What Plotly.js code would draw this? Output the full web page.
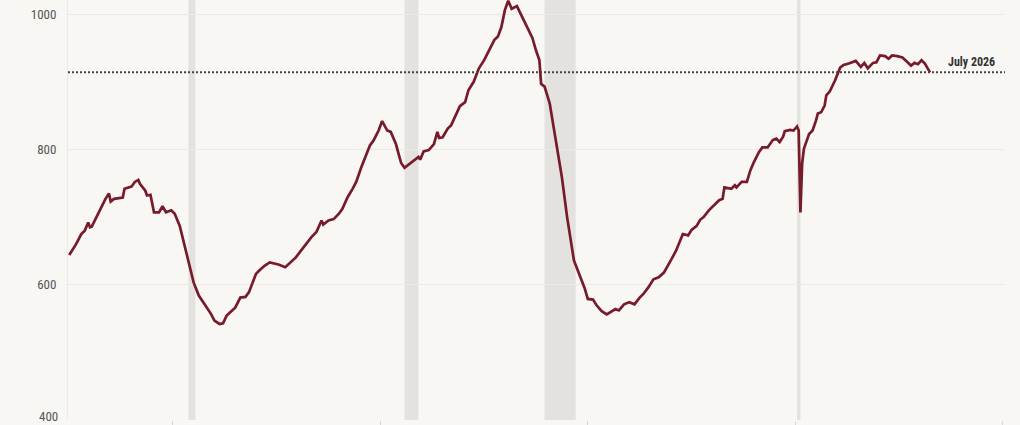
<!DOCTYPE html>
<html>
<head>
<meta charset="utf-8">
<script src="https://cdn.plot.ly/plotly-3.0.1.min.js"></script>
<style>
  html, body { margin: 0; padding: 0; background: #f8f7f4; }
  #chart { width: 1020px; height: 425px; }
</style>
</head>
<body>
<div id="chart"></div>
<script>
const dates = [
  '1985-01','1985-02','1985-05','1985-08','1985-10','1985-12',
  '1986-01','1986-02','1986-05','1986-08','1986-10','1986-12',
  '1987-01','1987-03','1987-06','1987-08','1987-09',
  '1988-01','1988-03','1988-05','1988-06','1988-09','1988-10','1988-12',
  '1989-02','1989-05','1989-07','1989-09','1989-12',
  '1990-02','1990-05','1990-07','1990-10',
  '1991-01','1991-04','1991-08','1991-11',
  '1992-01','1992-04','1992-06','1992-08','1992-10',
  '1993-01','1993-04','1993-07','1993-09','1993-12',
  '1994-01','1994-03','1994-06','1994-09','1994-11',
  '1995-02','1995-06','1995-09','1995-12',
  '1996-03','1996-06','1996-09','1996-12',
  '1997-03','1997-04','1997-07','1997-10',
  '1998-01','1998-03','1998-06','1998-09','1998-11',
  '1999-02','1999-05','1999-07','1999-09','1999-12',
  '2000-02','2000-05','2000-07','2000-10','2000-12',
  '2001-01','2001-03','2001-06','2001-07','2001-11','2001-12',
  '2002-02','2002-05','2002-08','2002-10','2002-11',
  '2003-01','2003-04','2003-06','2003-09','2003-11',
  '2004-02','2004-04','2004-07','2004-10',
  '2005-01','2005-04','2005-07','2005-09','2005-11',
  '2006-01','2006-03','2006-05','2006-08','2006-11',
  '2007-03','2007-05','2007-07','2007-09','2007-10','2007-12',
  '2008-03','2008-06','2008-10',
  '2009-01','2009-03','2009-05','2009-08','2009-11',
  '2010-01','2010-04','2010-06','2010-09','2010-12',
  '2011-03','2011-05','2011-07','2011-10',
  '2012-01','2012-04','2012-07','2012-09','2012-12',
  '2013-03','2013-06','2013-09',
  '2014-01','2014-04','2014-08','2014-11',
  '2015-01','2015-04','2015-06','2015-08','2015-11',
  '2016-02','2016-05','2016-07','2016-08','2016-12',
  '2017-02','2017-03','2017-06','2017-09','2017-11',
  '2018-01','2018-04','2018-06','2018-09','2018-12',
  '2019-02','2019-04','2019-06','2019-07','2019-10','2019-12',
  '2020-02','2020-03','2020-04','2020-05','2020-06','2020-09','2020-11',
  '2021-01','2021-02','2021-04','2021-06','2021-07','2021-09','2021-12',
  '2022-03','2022-05','2022-08','2022-12',
  '2023-03','2023-05','2023-07','2023-10','2023-12',
  '2024-02','2024-05','2024-07','2024-09','2024-12',
  '2025-03','2025-06','2025-08','2025-10','2025-12',
  '2026-02','2026-04','2026-07'
];
const values = [
  644,648,660,675,680,692,
  685,686,702,717,727,735,
  723,727,728,729,742,
  745,752,755,749,739,732,733,
  707,707,716,707,710,
  705,687,665,636,
  603,584,569,557,
  547,542,543,554,559,
  566,581,582,589,611,
  616,621,628,633,632,
  630,626,633,640,
  650,660,670,678,
  695,689,695,697,
  705,712,729,742,752,
  774,794,806,813,828,
  842,828,826,808,789,
  780,773,779,781,789,785,
  797,799,808,826,817,
  818,831,836,853,864,
  870,888,900,920,
  932,947,962,967,981,
  1006,1020,1008,1012,996,
  976,965,947,932,897,893,
  868,818,759,
  700,665,636,616,596,
  579,578,570,561,556,
  561,564,562,571,
  574,571,581,586,596,
  608,611,618,
  636,650,675,673,
  681,687,696,700,710,
  717,725,727,744,742,
  747,744,752,752,769,
  781,796,803,803,814,
  816,811,819,827,829,828,
  834,828,707,779,801,823,828,
  843,853,855,865,880,886,902,
  921,925,927,931,
  922,928,920,928,929,
  939,938,934,939,938,
  936,929,924,928,926,
  932,927,914
];
// Recession periods (shaded)
const recStart = ['1990-10-01','2001-03-01','2007-12-01','2020-02-01'];
const recEnd   = ['1991-02-01','2001-11-01','2009-06-01','2020-04-01'];
// Latest-value reference
const refLabel = 'July 2026';
const refValue = 914;
const yTicks = [400, 600, 800, 1000];
const yTickText = ['', '600', '800', '1000'];   // 400 is placed as a note so it stays inside the frame
const bottomLabel = '400';
const xTicks = ['1990-01-01','2000-01-01','2010-01-01','2020-01-01','2030-01-01'];

const shapes = recStart.map((s, i) => ({
  type: 'rect', layer: 'below', xref: 'x', yref: 'paper',
  x0: s, x1: recEnd[i], y0: 0, y1: 1,
  fillcolor: '#e3e2df', line: {width: 0}
}));
shapes.push({
  type: 'line', layer: 'above', xref: 'paper', yref: 'y',
  x0: 0, x1: 1, y0: refValue, y1: refValue,
  line: {color: '#444444', width: 2, dash: '2px,2px'}
});

const font = "'Roboto Condensed', 'Liberation Sans Narrow', Roboto, sans-serif";

Plotly.newPlot('chart', [{
  type: 'scatter', mode: 'lines',
  x: dates, y: values,
  line: {color: '#771a2a', width: 2.7},
  hoverinfo: 'skip'
}], {
  width: 1020, height: 425,
  margin: {l: 68, r: 15, t: 0, b: 5},
  paper_bgcolor: '#f8f7f4', plot_bgcolor: '#f8f7f4',
  showlegend: false,
  font: {family: font, color: '#555555', size: 13},
  xaxis: {
    type: 'date', range: ['1984-12-10', '2030-02-10'],
    tickvals: xTicks, showticklabels: false,
    ticks: 'outside', ticklen: 5, tickcolor: '#d8d7d3',
    showgrid: false, zeroline: false, showline: false,
    automargin: false, fixedrange: true
  },
  yaxis: {
    range: [400, 1021],
    tickvals: yTicks, ticktext: yTickText, ticks: '', ticklabelstandoff: 8,
    showgrid: true, gridcolor: '#ebeae6', gridwidth: 1,
    zeroline: false, showline: true, linecolor: '#ebeae6', linewidth: 1,
    automargin: false, fixedrange: true
  },
  shapes: shapes,
  annotations: [{
    xref: 'paper', yref: 'y', x: 0.991, y: refValue,
    xanchor: 'right', yanchor: 'bottom', yshift: 1,
    text: '<b>' + refLabel + '</b>', showarrow: false,
    font: {family: font, size: 12, color: '#333333'}
  }, {
    xref: 'paper', yref: 'y', x: 0, y: yTicks[0],
    xanchor: 'right', yanchor: 'bottom', xshift: -9, yshift: -5,
    borderpad: 0,
    text: bottomLabel, showarrow: false,
    font: {family: font, size: 13, color: '#555555'}
  }]
}, {displayModeBar: false, staticPlot: true});
</script>
</body>
</html>
